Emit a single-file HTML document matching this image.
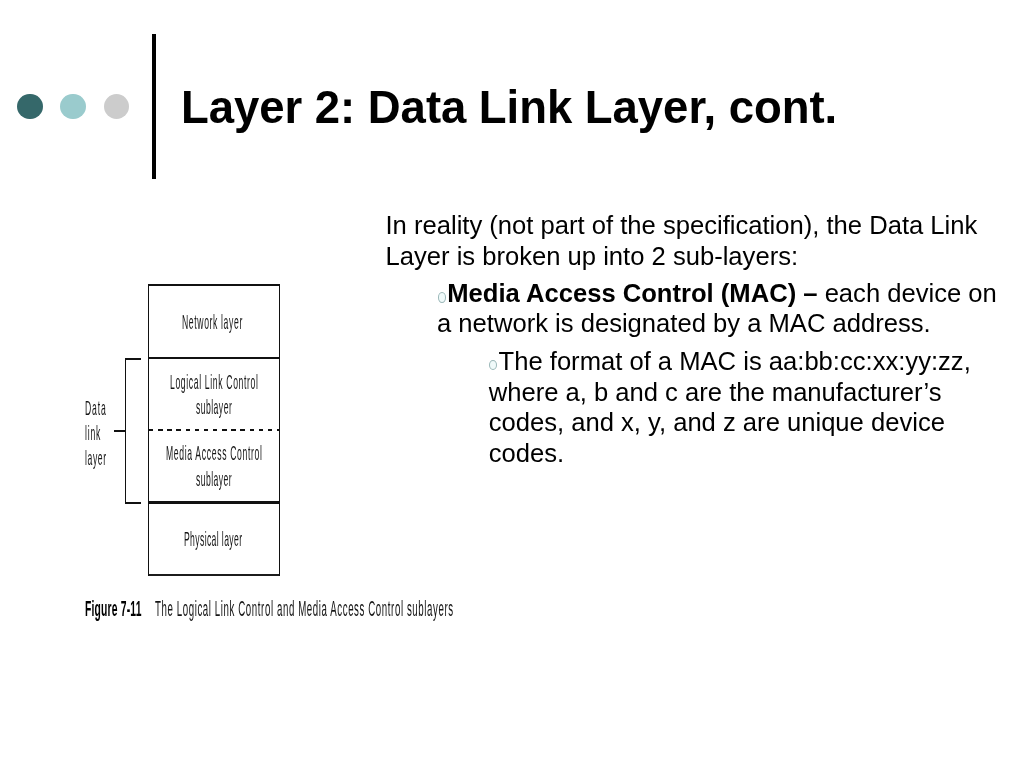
<!DOCTYPE html>
<html>
<head>
<meta charset="utf-8">
<style>
html,body{margin:0;padding:0;background:#fff;}
body{width:1024px;height:768px;position:relative;overflow:hidden;font-family:"Liberation Sans",sans-serif;color:#000;}
.dot{position:absolute;width:25.5px;height:25.5px;border-radius:50%;}
.vline{position:absolute;left:151.5px;top:34px;width:4.3px;height:145px;background:#000;}
.title{position:absolute;filter:grayscale(1);left:181px;top:81.5px;font-weight:bold;font-size:45.5px;line-height:52px;letter-spacing:-0.04px;white-space:nowrap;}
.body{position:absolute;font-size:25.6px;line-height:30.7px;white-space:nowrap;}
.g{filter:grayscale(1);}
.bul{display:inline-block;width:6.4px;height:8.8px;border:1.6px solid #9bb7b8;background:#f0fafa;border-radius:50%;margin-right:0.8px;margin-left:0.5px;vertical-align:-1.1px;}
.d{position:absolute;background:#111;}
.t{position:absolute;filter:grayscale(1);color:#151515;font-size:21px;line-height:25px;white-space:nowrap;transform-origin:0 0;}
.cap{font-size:22px;line-height:26px;}
</style>
</head>
<body>
<div class="dot" style="left:17.2px;top:93.8px;background:#35686a;"></div>
<div class="dot" style="left:60.4px;top:93.8px;background:#9acbcd;"></div>
<div class="dot" style="left:103.8px;top:93.8px;background:#cccccc;"></div>
<div class="vline"></div>
<div class="title">Layer 2: Data Link Layer, cont.</div>

<div class="body" style="left:385.5px;top:210.3px;"><span class="g">In reality (not part of the specification), the Data Link<br>Layer is broken up into 2 sub-layers:</span></div>
<div class="body" style="left:437px;top:277.6px;"><span class="bul" style="margin-right:1.4px"></span><span class="g"><b>Media Access Control (MAC) –</b> each device on<br>a network is designated by a MAC address.</span></div>
<div class="body" style="left:488.7px;top:345.9px;"><span class="bul" style="margin-left:0.1px;margin-right:1.4px;vertical-align:-0.2px;height:8.4px"></span><span class="g">The format of a MAC is aa:bb:cc:xx:yy:zz,<br>where a, b and c are the manufacturer’s<br>codes, and x, y, and z are unique device<br>codes.</span></div>

<!-- diagram -->
<div class="d" style="left:148px;top:284px;width:132.2px;height:2.2px;"></div>
<div class="d" style="left:148px;top:356.6px;width:132.2px;height:2.2px;"></div>
<div class="d" style="left:148px;top:501.4px;width:132.2px;height:2.2px;"></div>
<div class="d" style="left:148px;top:573.5px;width:132.2px;height:2.2px;background:#1c1c1c;"></div>
<div class="d" style="left:148px;top:284px;width:1.2px;height:291.7px;"></div>
<div class="d" style="left:279px;top:284px;width:1.2px;height:291.7px;"></div>
<div class="d" style="left:149px;top:429.1px;width:130px;height:2.3px;background:repeating-linear-gradient(90deg,#111 0 4.4px,transparent 4.4px 9.14px);"></div>
<!-- bracket -->
<div class="d" style="left:125px;top:358.1px;width:1.2px;height:145.9px;"></div>
<div class="d" style="left:125px;top:358.1px;width:15.5px;height:1.9px;"></div>
<div class="d" style="left:125px;top:501.9px;width:15.5px;height:2.1px;"></div>
<div class="d" style="left:113.8px;top:429.5px;width:11.4px;height:2.1px;"></div>

<div class="t" style="left:182.49px;top:309.22px;letter-spacing:1.549px;transform:scaleX(0.4100);">Network layer</div>
<div class="t" style="left:170.49px;top:369.22px;letter-spacing:1.576px;transform:scaleX(0.4100);">Logical Link Control</div>
<div class="t" style="left:196.40px;top:394.12px;letter-spacing:1.115px;transform:scaleX(0.4100);">sublayer</div>
<div class="t" style="left:166.29px;top:439.9px;letter-spacing:1.629px;transform:scaleX(0.4100);">Media Access Control</div>
<div class="t" style="left:196.00px;top:465.8px;letter-spacing:1.045px;transform:scaleX(0.4100);">sublayer</div>
<div class="t" style="left:183.59px;top:526.42px;letter-spacing:0.921px;transform:scaleX(0.4100);">Physical layer</div>
<div class="t" style="left:85.29px;top:395.02px;letter-spacing:2.041px;transform:scaleX(0.4100);">Data</div>
<div class="t" style="left:85.29px;top:420.02px;letter-spacing:1.943px;transform:scaleX(0.4100);">link</div>
<div class="t" style="left:85.29px;top:444.52px;letter-spacing:1.494px;transform:scaleX(0.4100);">layer</div>
<div class="t cap" style="left:84.63px;top:595.6px;font-weight:bold;color:#000;letter-spacing:0.39px;transform:scaleX(0.4700);">Figure 7-11</div>
<div class="t cap" style="left:155.00px;top:595.6px;letter-spacing:1.350px;transform:scaleX(0.4400);">The Logical Link Control and Media Access Control sublayers</div>
</body>
</html>
